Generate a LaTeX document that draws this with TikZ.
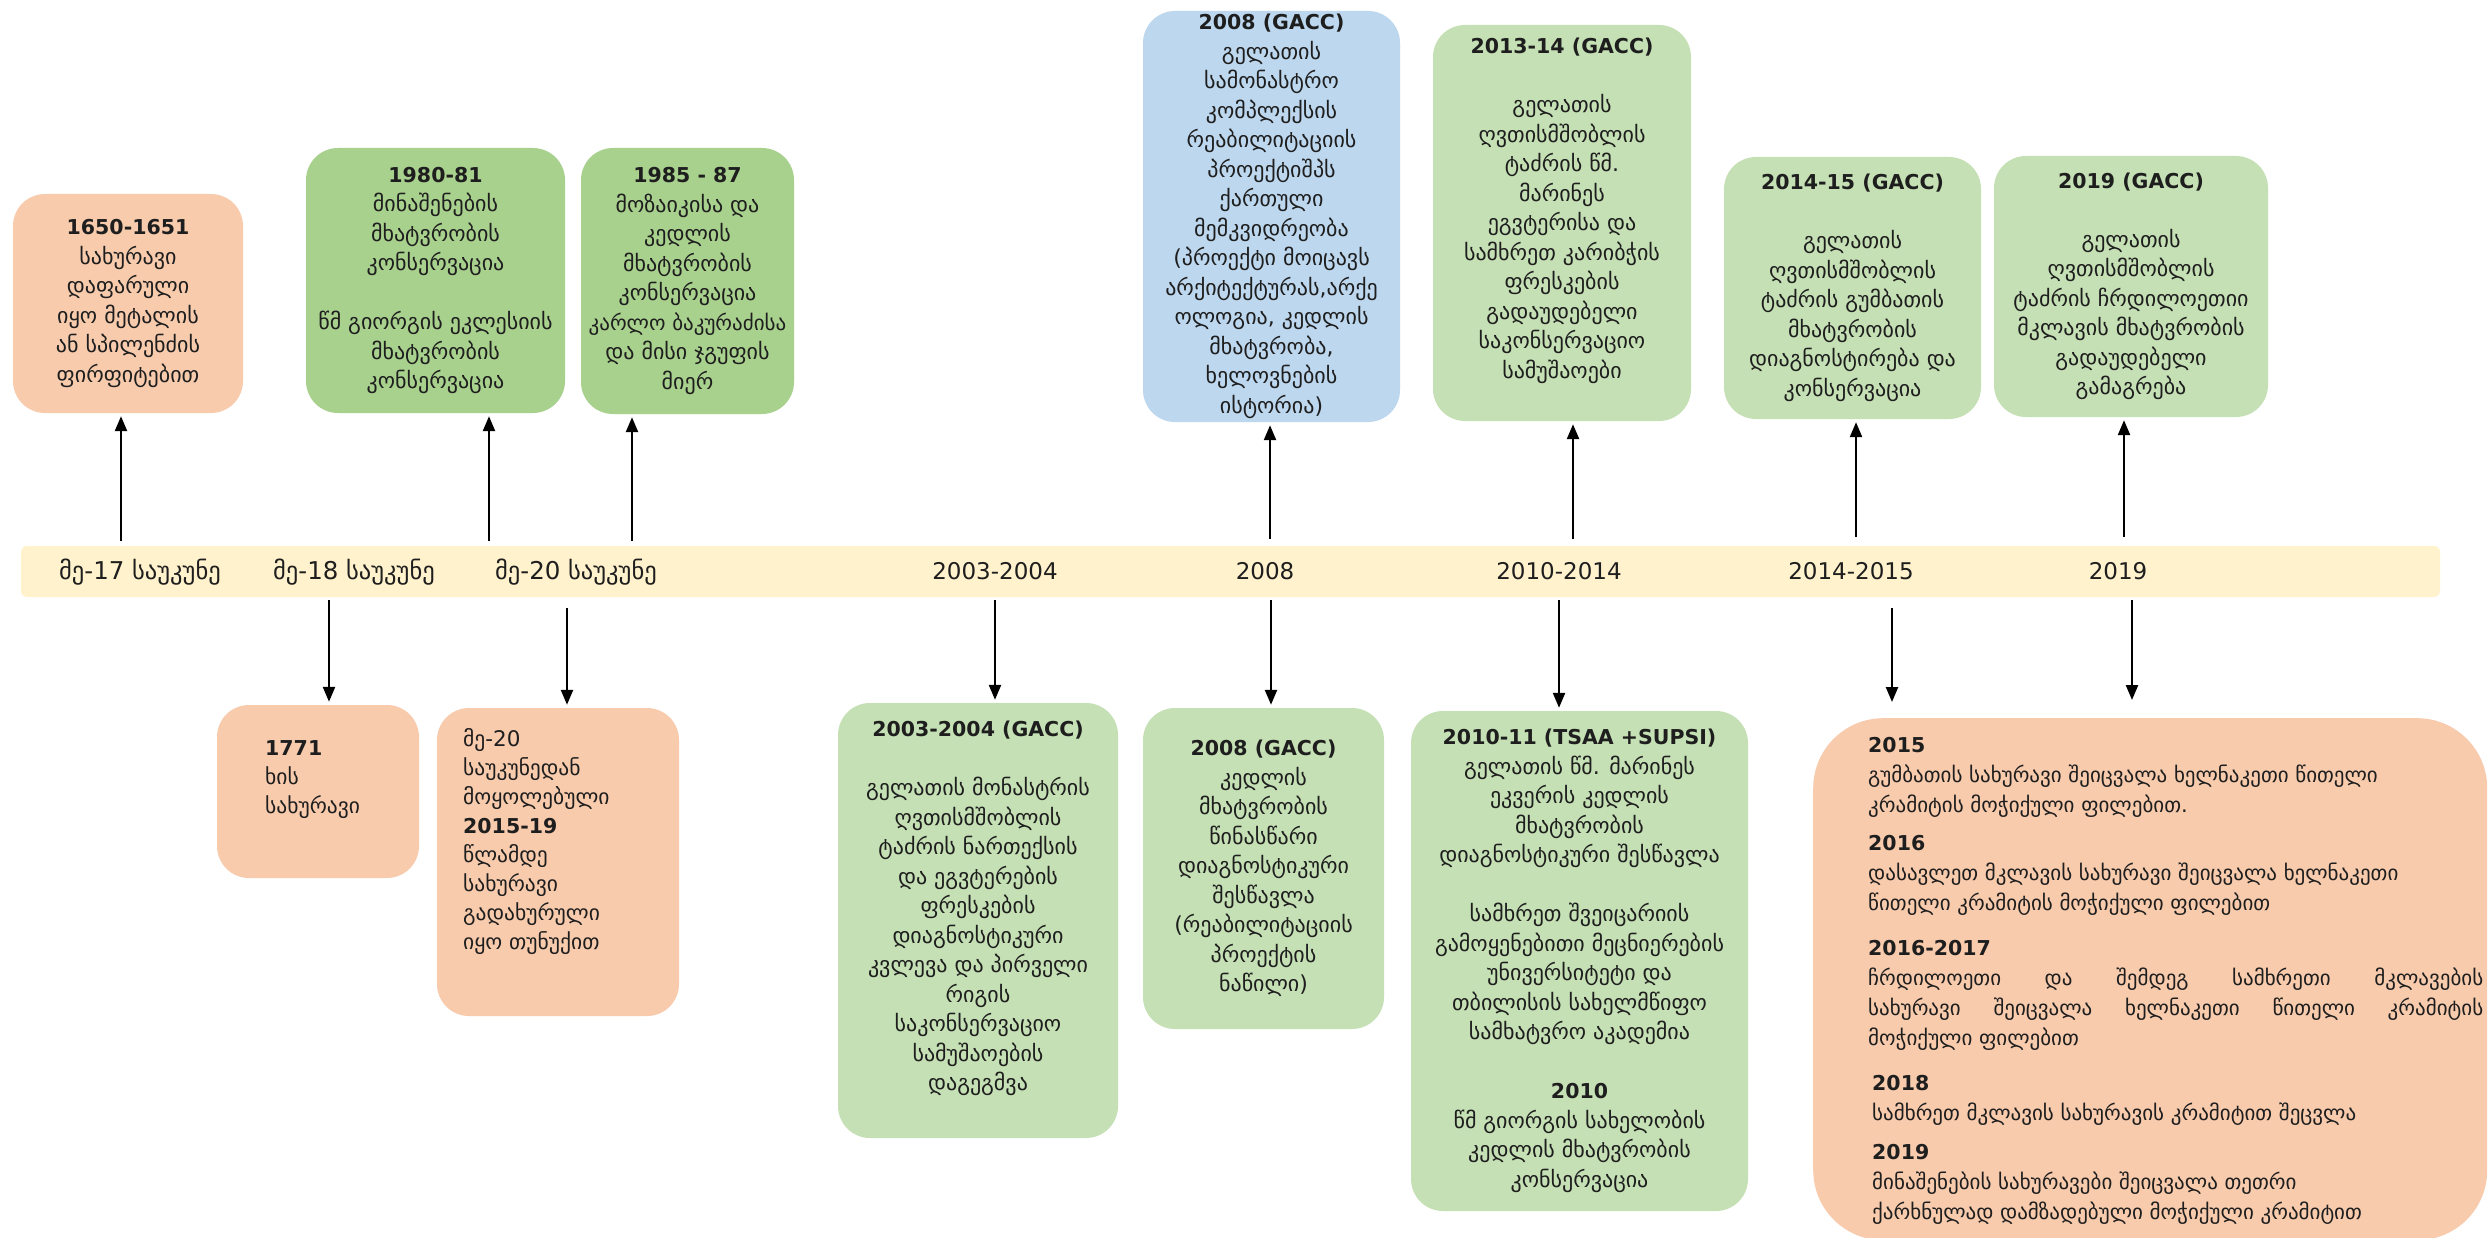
\documentclass[tikz,border=0pt]{standalone}
\usepackage{fontspec}
\setmainfont{DejaVu Sans}
\usetikzlibrary{arrows.meta}
\definecolor{peach}{HTML}{F8CBAD}
\definecolor{gdark}{HTML}{A9D18E}
\definecolor{glight}{HTML}{C5E0B4}
\definecolor{lblue}{HTML}{BDD7EE}
\definecolor{bandc}{HTML}{FFF2CC}
\definecolor{txtc}{HTML}{1E1E1E}
\newcommand{\hdg}[1]{{\fontsize{20.5}{29.5}\selectfont\bfseries #1}}
\begin{document}
\begin{tikzpicture}[x=1pt,y=-1pt,
  boxbase/.style={rounded corners=32pt, align=center, inner sep=0pt, text=txtc,
    font=\fontsize{22}{29.5}\selectfont},
  sec/.style={align=left, inner sep=0pt, anchor=north west, text=txtc,
    font=\fontsize{21}{30}\selectfont},
  lefttxt/.style={align=left, inner sep=0pt, anchor=north west, text=txtc,
    font=\fontsize{21.5}{29}\selectfont},
  lbl/.style={inner sep=0pt, text=txtc, font=\fontsize{24.5}{28}\selectfont},
  nlbl/.style={inner sep=0pt, text=txtc, font=\fontsize{23}{28}\selectfont},
  arr/.style={line width=2.4pt, draw=black, -{Triangle[length=15pt,width=12pt]}, shorten >=3pt}
]
\useasboundingbox (0,0) rectangle (2489,1238);
\fill[white] (0,0) rectangle (2489,1238);

% timeline band
\node[fill=bandc, rounded corners=6pt, minimum width=2419pt, minimum height=51pt, inner sep=0pt] (band) at (1230.5,571.5) {};
\node[lbl] (l1) at (140,572) {მე-17 საუკუნე};
\node[lbl] (l2) at (354,572) {მე-18 საუკუნე};
\node[lbl] (l3) at (576,572) {მე-20 საუკუნე};
\node[nlbl] (l4) at (995,571) {2003-2004};
\node[nlbl] (l5) at (1265,571) {2008};
\node[nlbl] (l6) at (1559,571) {2010-2014};
\node[nlbl] (l7) at (1851,571) {2014-2015};
\node[nlbl] (l8) at (2118,571) {2019};

% top boxes
\node[boxbase, fill=peach, minimum width=230pt, minimum height=219pt] (bA) at (128,303.5)
  {\hdg{1650-1651}\\სახურავი\\დაფარული\\იყო მეტალის\\ან სპილენძის\\ფირფიტებით};
\node[boxbase, fill=gdark, minimum width=259pt, minimum height=265pt] (bB) at (435.5,280.5)
  {\hdg{1980-81}\\მინაშენების\\მხატვრობის\\კონსერვაცია\\\mbox{}\\წმ გიორგის ეკლესიის\\მხატვრობის\\კონსერვაცია};
\node[boxbase, fill=gdark, minimum width=213pt, minimum height=266pt] (bC) at (687.5,281)
  {\hdg{1985 - 87}\\მოზაიკისა და\\კედლის\\მხატვრობის\\კონსერვაცია\\{\fontsize{21}{29.5}\selectfont კარლო ბაკურაძისა}\\და მისი ჯგუფის\\მიერ};
\node[boxbase, fill=lblue, minimum width=257pt, minimum height=411pt] (bD) at (1271.5,216.5)
  {\hdg{2008 (GACC)}\\გელათის\\სამონასტრო\\კომპლექსის\\რეაბილიტაციის\\პროექტიშპს\\ქართული\\მემკვიდრეობა\\(პროექტი მოიცავს\\არქიტექტურას,არქე\\ოლოგია, კედლის\\მხატვრობა,\\ხელოვნების\\ისტორია)};
\node[boxbase, fill=glight, minimum width=258pt, minimum height=396pt] (bE) at (1562,223)
  {\hdg{2013-14 (GACC)}\\\mbox{}\\გელათის\\ღვთისმშობლის\\ტაძრის წმ.\\მარინეს\\ეგვტერისა და\\სამხრეთ კარიბჭის\\ფრესკების\\გადაუდებელი\\საკონსერვაციო\\სამუშაოები\\\mbox{}};
\node[boxbase, fill=glight, minimum width=257pt, minimum height=262pt] (bF) at (1852.5,288)
  {\hdg{2014-15 (GACC)}\\\mbox{}\\გელათის\\ღვთისმშობლის\\ტაძრის გუმბათის\\მხატვრობის\\დიაგნოსტირება და\\კონსერვაცია};
\node[boxbase, fill=glight, minimum width=274pt, minimum height=261pt] (bG) at (2131,286.5)
  {\hdg{2019 (GACC)}\\\mbox{}\\გელათის\\ღვთისმშობლის\\ტაძრის ჩრდილოეთიი\\მკლავის მხატვრობის\\გადაუდებელი\\გამაგრება};

% bottom boxes
\node[boxbase, fill=peach, minimum width=202pt, minimum height=173pt] (bH) at (318,791.5) {};
\node[lefttxt] (tH) at (265,740) {\hdg{1771}\\ხის\\სახურავი};
\node[boxbase, fill=peach, minimum width=242pt, minimum height=308pt] (bI) at (558,862) {};
\node[lefttxt] (tI) at (463,728) {მე-20\\საუკუნედან\\მოყოლებული\\\hdg{2015-19}\\წლამდე\\სახურავი\\გადახურული\\იყო თუნუქით};
\node[boxbase, fill=glight, minimum width=280pt, minimum height=435pt] (bJ) at (978,920.5)
  {\hdg{2003-2004 (GACC)}\\\mbox{}\\გელათის მონასტრის\\ღვთისმშობლის\\ტაძრის ნართექსის\\და ეგვტერების\\ფრესკების\\დიაგნოსტიკური\\კვლევა და პირველი\\რიგის\\საკონსერვაციო\\სამუშაოების\\დაგეგმვა\\\mbox{}};
\node[boxbase, fill=glight, minimum width=241pt, minimum height=321pt] (bK) at (1263.5,868.5)
  {\hdg{2008 (GACC)}\\კედლის\\მხატვრობის\\წინასწარი\\დიაგნოსტიკური\\შესწავლა\\(რეაბილიტაციის\\პროექტის\\ნაწილი)};
\node[boxbase, fill=glight, minimum width=337pt, minimum height=500pt] (bL) at (1579.5,961)
  {\hdg{2010-11 (TSAA +SUPSI)}\\გელათის წმ. მარინეს\\ეკვერის კედლის\\მხატვრობის\\დიაგნოსტიკური შესწავლა\\\mbox{}\\სამხრეთ შვეიცარიის\\გამოყენებითი მეცნიერების\\უნივერსიტეტი და\\თბილისის სახელმწიფო\\სამხატვრო აკადემია\\\mbox{}\\\hdg{2010}\\წმ გიორგის სახელობის\\კედლის მხატვრობის\\კონსერვაცია};
\node[boxbase, rounded corners=70pt, fill=peach, minimum width=674pt, minimum height=522pt, anchor=north west] (bM) at (1813,718) {};
\node[sec] (m1) at (1868,737) {\hdg{2015}\\გუმბათის სახურავი შეიცვალა ხელნაკეთი წითელი\\კრამიტის მოჭიქული ფილებით.};
\node[sec] (m2) at (1868,835) {\hdg{2016}\\დასავლეთ მკლავის სახურავი შეიცვალა ხელნაკეთი\\წითელი კრამიტის მოჭიქული ფილებით};
\node[sec] (m3) at (1868,940) {\hdg{2016-2017}\\\makebox[615pt][s]{ჩრდილოეთი და შემდეგ სამხრეთი მკლავების}\\\makebox[615pt][s]{სახურავი შეიცვალა ხელნაკეთი წითელი კრამიტის}\\მოჭიქული ფილებით};
\node[sec] (m4) at (1872,1075) {\hdg{2018}\\სამხრეთ მკლავის სახურავის კრამიტით შეცვლა};
\node[sec] (m5) at (1872,1144) {\hdg{2019}\\მინაშენების სახურავები შეიცვალა თეთრი\\ქარხნულად დამზადებული მოჭიქული კრამიტით};

% arrows up
\coordinate (uA) at (121,541);
\coordinate (uB) at (489,541);
\coordinate (uC) at (632,541);
\coordinate (uD) at (1270,539);
\coordinate (uE) at (1573,539);
\coordinate (uF) at (1856,537);
\coordinate (uG) at (2124,537);
\draw[arr] (uA) -- (uA |- bA.south);
\draw[arr] (uB) -- (uB |- bB.south);
\draw[arr] (uC) -- (uC |- bC.south);
\draw[arr] (uD) -- (uD |- bD.south);
\draw[arr] (uE) -- (uE |- bE.south);
\draw[arr] (uF) -- (uF |- bF.south);
\draw[arr] (uG) -- (uG |- bG.south);

% arrows down
\coordinate (dH) at (329,600);
\coordinate (dI) at (567,608);
\coordinate (dJ) at (995,600);
\coordinate (dK) at (1271,600);
\coordinate (dL) at (1559,600);
\coordinate (dM1) at (1892,608);
\coordinate (dM2) at (2132,600);
\coordinate (eM1) at (1892,702);
\coordinate (eM2) at (2132,700);
\draw[arr] (dH) -- (dH |- bH.north);
\draw[arr] (dI) -- (dI |- bI.north);
\draw[arr] (dJ) -- (dJ |- bJ.north);
\draw[arr] (dK) -- (dK |- bK.north);
\draw[arr] (dL) -- (dL |- bL.north);
\draw[arr, shorten >=0pt] (dM1) -- (eM1);
\draw[arr, shorten >=0pt] (dM2) -- (eM2);
\end{tikzpicture}
\end{document}
